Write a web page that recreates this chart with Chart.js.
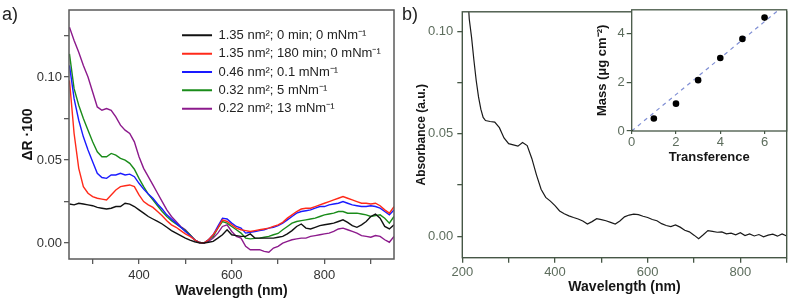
<!DOCTYPE html>
<html>
<head>
<meta charset="utf-8">
<script src="https://cdn.jsdelivr.net/npm/chart.js@4/dist/chart.umd.min.js"></script>
<style>
  body { margin: 0; background: #fff; }
  #wrap { position: relative; width: 791px; height: 302px; overflow: hidden; font-family: "Liberation Sans", Arial, sans-serif; }
  canvas { position: absolute; }
  .tag { position: absolute; font-size: 18px; line-height: 18px; color: #222; }
</style>
</head>
<body>
<div id="wrap">
  <canvas id="chartA" width="400" height="302" style="left:0;top:0"></canvas>
  <canvas id="chartB" width="391" height="302" style="left:400px;top:0"></canvas>
  <canvas id="inset" width="201" height="170" style="left:590px;top:0"></canvas>
  <div class="tag" style="left:2px;top:5px">a)</div>
  <div class="tag" style="left:402px;top:5px">b)</div>
</div>
<script>
// panel a: reflectance difference spectra
const wlA = [250,260,270,280,290,300,310,320,330,340,350,360,370,380,390,400,410,420,430,440,
  450,460,470,480,490,500,510,520,530,540,550,560,570,580,590,600,610,620,630,640,
  650,660,670,680,690,700,710,720,730,740,750,760,770,780,790,800,810,820,830,840,
  850,860,870,880,890,900,910,920,930,940,950];

const black = [0.0235,0.023,0.024,0.0235,0.023,0.0225,0.0215,0.021,0.0205,0.021,0.022,0.022,0.024,0.0235,0.022,0.020,0.018,0.016,0.0145,0.013,
  0.0115,0.0095,0.0075,0.006,0.0045,0.003,0.0018,0.0008,0.0002,0.0,0.0005,0.001,0.003,0.005,0.008,0.005,0.0045,0.004,0.004,0.0055,
  0.003,0.003,0.003,0.003,0.003,0.0035,0.004,0.0055,0.0075,0.010,0.0115,0.009,0.0085,0.0095,0.0105,0.011,0.0115,0.012,0.013,0.014,
  0.0125,0.0105,0.0095,0.011,0.013,0.016,0.0175,0.015,0.010,0.0085,0.011];

const red = [0.098,0.066,0.045,0.034,0.030,0.028,0.027,0.0265,0.026,0.029,0.032,0.034,0.0345,0.035,0.034,0.029,0.025,0.023,0.0215,0.019,
  0.0165,0.0135,0.011,0.0095,0.0075,0.0055,0.004,0.002,0.0003,0.0,0.002,0.005,0.009,0.014,0.013,0.011,0.009,0.008,0.0075,0.007,
  0.0075,0.008,0.0085,0.009,0.010,0.011,0.0125,0.015,0.017,0.019,0.0205,0.021,0.021,0.022,0.023,0.024,0.025,0.026,0.027,0.028,
  0.027,0.026,0.025,0.024,0.024,0.0235,0.024,0.0225,0.020,0.018,0.022];

const blue = [0.107,0.087,0.074,0.064,0.056,0.049,0.042,0.0395,0.039,0.041,0.041,0.042,0.041,0.0415,0.040,0.036,0.0325,0.0295,0.027,0.0235,
  0.0205,0.017,0.0145,0.012,0.0095,0.007,0.0045,0.002,0.0003,0.0,0.002,0.005,0.010,0.015,0.0145,0.012,0.010,0.009,0.006,0.0065,
  0.007,0.0075,0.008,0.009,0.0095,0.0105,0.012,0.014,0.016,0.018,0.019,0.0195,0.020,0.021,0.022,0.022,0.023,0.0235,0.024,0.025,
  0.024,0.023,0.0225,0.022,0.022,0.0225,0.022,0.021,0.019,0.017,0.020];

const green = [0.114,0.093,0.083,0.075,0.068,0.061,0.055,0.052,0.052,0.054,0.053,0.051,0.050,0.048,0.0445,0.039,0.034,0.0295,0.026,0.0225,
  0.019,0.016,0.0135,0.0115,0.0095,0.0075,0.005,0.002,0.0003,0.0,0.002,0.004,0.009,0.013,0.012,0.010,0.008,0.006,0.003,0.0025,
  0.0028,0.003,0.0035,0.004,0.005,0.0058,0.008,0.010,0.012,0.013,0.0135,0.014,0.0145,0.015,0.016,0.017,0.0175,0.018,0.019,0.019,
  0.018,0.018,0.018,0.0175,0.017,0.016,0.0165,0.017,0.015,0.012,0.016];

const purple = [0.130,0.122,0.115,0.107,0.100,0.091,0.082,0.080,0.081,0.080,0.076,0.071,0.068,0.066,0.061,0.052,0.045,0.040,0.035,0.030,
  0.025,0.020,0.016,0.013,0.010,0.008,0.005,0.002,0.0003,0.0,0.001,0.003,0.006,0.010,0.011,0.007,0.004,0.003,-0.002,-0.004,
  -0.004,-0.004,-0.005,-0.0055,-0.003,-0.002,0.0,0.001,0.002,0.0025,0.003,0.003,0.004,0.0045,0.005,0.0055,0.006,0.007,0.0085,0.009,
  0.008,0.007,0.006,0.0045,0.004,0.0035,0.0045,0.004,0.002,0.0005,0.004];

const labelsA = ['1.35 nm²; 0 min; 0 mNm⁻¹', '1.35 nm²; 180 min; 0 mNm⁻¹', '0.46 nm²; 0.1 mNm⁻¹', '0.32 nm²; 5 mNm⁻¹', '0.22 nm²; 13 mNm⁻¹'];
const colorsA = ['#111111', '#ff2a1a', '#1a1aff', '#1a8c1a', '#8c1a8c'];
const xTicksA = [300,400,500,600,700,800,900];
const xMajorA = [400,600,800];
const yTicksA = [0,0.025,0.05,0.075,0.10,0.125];
const yMajorA = [0,0.05,0.10];

// panel b: absorbance spectrum
const wlB = [210,215,220,225,230,235,240,245,250,260,270,280,290,300,310,320,330,340,350,360,
  370,380,390,400,410,420,430,440,450,460,470,480,490,500,510,520,530,540,550,560,
  570,580,590,600,610,620,630,640,650,660,670,680,690,700,710,720,730,740,750,760,
  770,780,790,800,810,820,830,840,850,860,870,880,890,900];
const absB = [0.125,0.106,0.097,0.086,0.076,0.068,0.062,0.058,0.0565,0.056,0.0557,0.053,0.048,0.0452,0.0446,0.044,0.0458,0.0443,0.038,0.030,
  0.023,0.019,0.0172,0.015,0.0124,0.011,0.010,0.0092,0.0085,0.0075,0.006,0.0072,0.0086,0.0082,0.0076,0.0068,0.006,0.0075,0.0095,0.0104,
  0.0108,0.0106,0.0098,0.0092,0.0082,0.0076,0.0062,0.0053,0.0048,0.0056,0.0045,0.003,0.0022,0.0006,-0.0011,0.0008,0.0028,0.0024,0.002,0.0022,
  0.0012,0.0016,0.0008,0.0018,0.0004,0.0012,0.0002,0.0009,-0.0002,0.0006,0.0011,0.0001,0.0012,0.0002];
const xTicksB = [200,300,400,500,600,700,800,900];
const xMajorB = [200,400,600,800];
const yTicksB = [0,0.025,0.05,0.075,0.10];
const yMajorB = [0,0.05,0.10];

// inset: mass per transfer
const transfer = [0,1,2,3,4,5,6];
const mass = [0,0.51,1.12,2.08,2.99,3.77,4.64];
const fitX = [0,6.7];
const fitY = [0,5.0];

Chart.defaults.font.family = '"Liberation Sans", Arial, sans-serif';
Chart.defaults.animation = false;

const greenAxis = '#465746';
const greenText = '#5d6d5d';

function fixTicks(list) {
  return scale => { scale.ticks = list.map(v => ({ value: v })); };
}

function frame(color, width, fill) {
  return {
    id: 'frame',
    beforeDraw(chart) {
      if (!fill) return;
      const { ctx, chartArea: a } = chart;
      ctx.save();
      ctx.fillStyle = fill;
      ctx.fillRect(a.left, a.top, a.right - a.left, a.bottom - a.top);
      ctx.restore();
    },
    afterDraw(chart) {
      const { ctx, chartArea: a } = chart;
      ctx.save();
      ctx.strokeStyle = color;
      ctx.lineWidth = width;
      ctx.strokeRect(a.left, a.top, a.right - a.left, a.bottom - a.top);
      ctx.restore();
    }
  };
}

const placeLegend = {
  id: 'placeLegend',
  afterLayout(chart) {
    chart.legend.left = 176.7;
    chart.legend.top = 23.5;
  }
};

const seriesA = [black, red, blue, green, purple];

new Chart(document.getElementById('chartA'), {
  type: 'line',
  data: {
    datasets: seriesA.map((s, i) => ({
      label: labelsA[i],
      data: wlA.map((w, j) => ({ x: w, y: s[j] })),
      borderColor: colorsA[i],
      backgroundColor: colorsA[i],
      borderWidth: 1.4,
      pointRadius: 0,
      tension: 0
    }))
  },
  options: {
    responsive: false,
    devicePixelRatio: 1,
    layout: { padding: { left: 0, right: 6, top: 10, bottom: 0 } },
    scales: {
      x: {
        type: 'linear', min: 249, max: 950,
        afterBuildTicks: fixTicks(xTicksA),
        afterFit: s => { s.height = 43; },
        border: { display: false },
        grid: { drawOnChartArea: false, tickLength: 5, color: '#5a5a5a', lineWidth: 1.3 },
        ticks: { padding: 3.5, color: '#333', font: { size: 13 }, maxRotation: 0, autoSkip: false,
          callback: v => xMajorA.includes(v) ? String(v) : '' },
        title: { display: true, text: 'Wavelength (nm)', color: '#151515',
          font: { size: 14, weight: 'bold' }, padding: { top: 0, bottom: 2.1 } }
      },
      y: {
        type: 'linear', min: -0.0096, max: 0.1404,
        afterBuildTicks: fixTicks(yTicksA),
        afterFit: s => { s.width = 69; },
        border: { display: false },
        grid: { drawOnChartArea: false, tickLength: 5, color: '#5a5a5a', lineWidth: 1.3 },
        ticks: { padding: 2, color: '#333', font: { size: 13 }, autoSkip: false,
          callback: v => yMajorA.includes(v) ? v.toFixed(2) : '' },
        title: { display: true, text: 'ΔR ·100', color: '#151515',
          font: { size: 14, weight: 'bold' }, padding: { top: 19.6, bottom: 0 } }
      }
    },
    plugins: {
      tooltip: { enabled: false },
      legend: {
        position: 'chartArea', align: 'start',
        labels: {
          usePointStyle: true, pointStyle: 'line', pointStyleWidth: 30, padding: 5.33,
          color: '#222', font: { size: 13 },
          generateLabels: chart => Chart.defaults.plugins.legend.labels.generateLabels(chart)
            .map(l => Object.assign(l, { lineWidth: 2 }))
        }
      }
    }
  },
  plugins: [frame('#5a5a5a', 1.5), placeLegend]
});

new Chart(document.getElementById('chartB'), {
  type: 'line',
  data: {
    datasets: [{
      label: 'Absorbance',
      data: wlB.map((w, j) => ({ x: w, y: absB[j] })),
      borderColor: '#1a1a1a',
      borderWidth: 1.2,
      pointRadius: 0,
      tension: 0
    }]
  },
  options: {
    responsive: false,
    devicePixelRatio: 1,
    layout: { padding: { left: 0, right: 4.3, top: 7, bottom: 0 } },
    scales: {
      x: {
        type: 'linear', min: 200, max: 900,
        afterBuildTicks: fixTicks(xTicksB),
        afterFit: s => { s.height = 44.3; },
        border: { display: false },
        grid: { drawOnChartArea: false, tickLength: 5, color: greenAxis, lineWidth: 1.3 },
        ticks: { padding: 2, color: greenText, font: { size: 13 }, maxRotation: 0, autoSkip: false,
          callback: v => xMajorB.includes(v) ? String(v) : '' },
        title: { display: true, text: 'Wavelength (nm)', color: '#151515',
          font: { size: 14, weight: 'bold' }, padding: { top: 0, bottom: 6.6 } }
      },
      y: {
        type: 'linear', min: -0.0104, max: 0.1095,
        afterBuildTicks: fixTicks(yTicksB),
        afterFit: s => { s.width = 62.3; },
        border: { display: false },
        grid: { drawOnChartArea: false, tickLength: 5, color: greenAxis, lineWidth: 1.3 },
        ticks: { padding: 4, color: greenText, font: { size: 13 }, autoSkip: false,
          callback: v => yMajorB.includes(v) ? v.toFixed(2) : '' },
        title: { display: true, text: 'Absorbance (a.u.)', color: '#151515',
          font: { size: 12, weight: 'bold' }, padding: { top: 14.8, bottom: 0 } }
      }
    },
    plugins: { legend: { display: false }, tooltip: { enabled: false } }
  },
  plugins: [frame(greenAxis, 1.4)]
});

new Chart(document.getElementById('inset'), {
  type: 'scatter',
  data: {
    datasets: [{
      label: 'Mass',
      data: transfer.map((t, j) => ({ x: t, y: mass[j] })),
      backgroundColor: '#000',
      borderColor: '#000',
      pointRadius: transfer.map(t => t === 0 ? 1.5 : 3.3),
      pointBorderWidth: 0
    }, {
      label: 'Fit',
      type: 'line',
      data: fitX.map((x, j) => ({ x: x, y: fitY[j] })),
      borderColor: '#7f8ed4',
      borderWidth: 1.2,
      borderDash: [4, 4],
      pointRadius: 0
    }]
  },
  options: {
    responsive: false,
    devicePixelRatio: 1,
    layout: { padding: { left: 0, right: 4.3, top: 7, bottom: 0 } },
    scales: {
      x: {
        type: 'linear', min: 0, max: 7,
        afterBuildTicks: fixTicks([0,2,4,6]),
        afterFit: s => { s.height = 39; },
        border: { display: false },
        grid: { drawOnChartArea: false, tickLength: 3, color: greenAxis, lineWidth: 1.2 },
        ticks: { padding: 1, color: greenText, font: { size: 13 }, maxRotation: 0, autoSkip: false },
        title: { display: true, text: 'Transference', color: '#151515',
          font: { size: 13, weight: 'bold' }, padding: { top: 0, bottom: 4.7 } }
      },
      y: {
        type: 'linear', min: 0, max: 4.96,
        afterBuildTicks: fixTicks([0,2,4]),
        afterFit: s => { s.width = 41.7; },
        border: { display: false },
        grid: { drawOnChartArea: false, tickLength: 5, color: greenAxis, lineWidth: 1.2 },
        ticks: { padding: 2, color: greenText, font: { size: 13 }, autoSkip: false },
        title: { display: true, text: 'Mass (μg cm⁻²)', color: '#151515',
          font: { size: 13, weight: 'bold' }, padding: { top: 4.7, bottom: 0 } }
      }
    },
    plugins: { legend: { display: false }, tooltip: { enabled: false } }
  },
  plugins: [frame(greenAxis, 1.3, '#ffffff')]
});
</script>
</body>
</html>
